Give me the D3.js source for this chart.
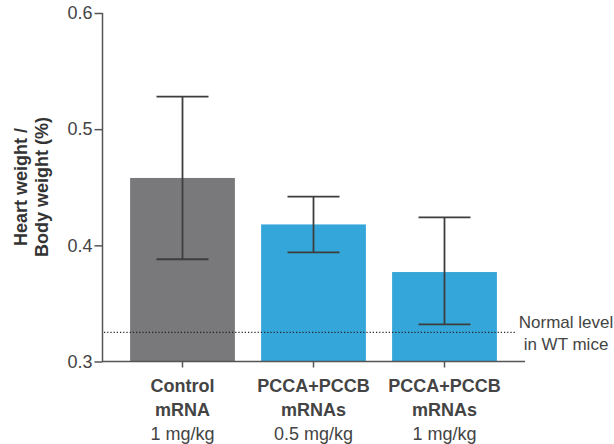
<!DOCTYPE html>
<html>
<head>
<meta charset="utf-8">
<script src="https://cdn.jsdelivr.net/npm/d3@7"></script>
<style>
  html, body { margin: 0; padding: 0; background: #fff; }
  svg { display: block; font-family: "Liberation Sans", Arial, Helvetica, sans-serif; }
</style>
</head>
<body>
<svg id="chart" width="614" height="444"></svg>
<script>
const categories = ["control", "pcca05", "pcca1"];
const labelLine1 = ["Control", "PCCA+PCCB", "PCCA+PCCB"];
const labelLine2 = ["mRNA", "mRNAs", "mRNAs"];
const labelLine3 = ["1 mg/kg", "0.5 mg/kg", "1 mg/kg"];
const means = [0.458, 0.418, 0.377];
const errLow = [0.388, 0.394, 0.332];
const errHigh = [0.528, 0.442, 0.424];
const barColors = ["#79797b", "#35a6d9", "#35a6d9"];
const yTicks = [0.3, 0.4, 0.5, 0.6];
const normalLevel = 0.325;
const normalText = ["Normal level", "in WT mice"];
const yTitle = ["Heart weight /", "Body weight (%)"];

const svg = d3.select("#chart");
const axisColor = "#555";
const textColor = "#444";

const y = d3.scaleLinear().domain([0.3, 0.6]).range([361.5, 13]);
const x = d3.scaleBand().domain(categories).range([117, 510]).paddingInner(0.2).paddingOuter(0.1);

// bars
svg.selectAll("rect.bar").data(categories).enter().append("rect")
  .attr("x", d => x(d))
  .attr("width", x.bandwidth())
  .attr("y", (d, i) => y(means[i]))
  .attr("height", (d, i) => y(0.3) - y(means[i]))
  .attr("fill", (d, i) => barColors[i]);

// normal level dotted line
svg.append("line")
  .attr("x1", 104).attr("x2", 516)
  .attr("y1", y(normalLevel)).attr("y2", y(normalLevel))
  .attr("stroke", "#222").attr("stroke-width", 1.2)
  .attr("stroke-dasharray", "1.2,2");

// error bars
const capW = 52;
const eb = svg.append("g").attr("stroke", "#3d3d3d").attr("stroke-width", 1.8);
categories.forEach((c, i) => {
  const cx = x(c) + x.bandwidth() / 2;
  eb.append("line").attr("x1", cx).attr("x2", cx).attr("y1", y(errHigh[i])).attr("y2", y(errLow[i]));
  eb.append("line").attr("x1", cx - capW / 2).attr("x2", cx + capW / 2).attr("y1", y(errHigh[i])).attr("y2", y(errHigh[i]));
  eb.append("line").attr("x1", cx - capW / 2).attr("x2", cx + capW / 2).attr("y1", y(errLow[i])).attr("y2", y(errLow[i]));
});

// y axis
const yAxis = d3.axisLeft(y).tickValues(yTicks).tickFormat(d3.format(".1f")).tickSize(8).tickPadding(2);
const gy = svg.append("g").attr("transform", "translate(102.5,0)").call(yAxis);
gy.select(".domain").attr("stroke", axisColor).attr("stroke-width", 1.5).attr("d", `M-0,${y(0.6)}V${y(0.3)}`);
gy.selectAll(".tick line").attr("stroke", axisColor).attr("stroke-width", 1.5);
gy.selectAll(".tick text").attr("fill", textColor).style("font-size", "18px")
  .style("font-family", "'Liberation Sans', Arial, sans-serif");

// x axis
const xAxis = d3.axisBottom(x).tickSize(6).tickFormat("");
const gx = svg.append("g").attr("transform", `translate(0,${y(0.3)})`).call(xAxis);
gx.select(".domain").attr("stroke", axisColor).attr("stroke-width", 1.5).attr("d", "M102,0H525");
gx.selectAll(".tick line").attr("stroke", axisColor).attr("stroke-width", 1.5);

// x labels
categories.forEach((c, i) => {
  const cx = x(c) + x.bandwidth() / 2;
  const t = svg.append("text").attr("text-anchor", "middle").attr("fill", textColor).style("font-size", "18px");
  t.append("tspan").attr("x", cx).attr("y", 392).style("font-weight", "bold").text(labelLine1[i]);
  t.append("tspan").attr("x", cx).attr("y", 416).style("font-weight", "bold").text(labelLine2[i]);
  t.append("tspan").attr("x", cx).attr("y", 440).text(labelLine3[i]);
});

// y title
const yt = svg.append("text").attr("transform", "translate(0,187) rotate(-90)")
  .attr("text-anchor", "middle").attr("fill", "#333").style("font-size", "18px").style("font-weight", "bold");
yt.append("tspan").attr("x", 0).attr("y", 27).text(yTitle[0]);
yt.append("tspan").attr("x", 0).attr("y", 48).text(yTitle[1]);

// normal level text
const nt = svg.append("text").attr("text-anchor", "middle").attr("fill", textColor).style("font-size", "17px");
nt.append("tspan").attr("x", 566).attr("y", 328).text(normalText[0]);
nt.append("tspan").attr("x", 566).attr("y", 350).text(normalText[1]);
</script>
</body>
</html>
